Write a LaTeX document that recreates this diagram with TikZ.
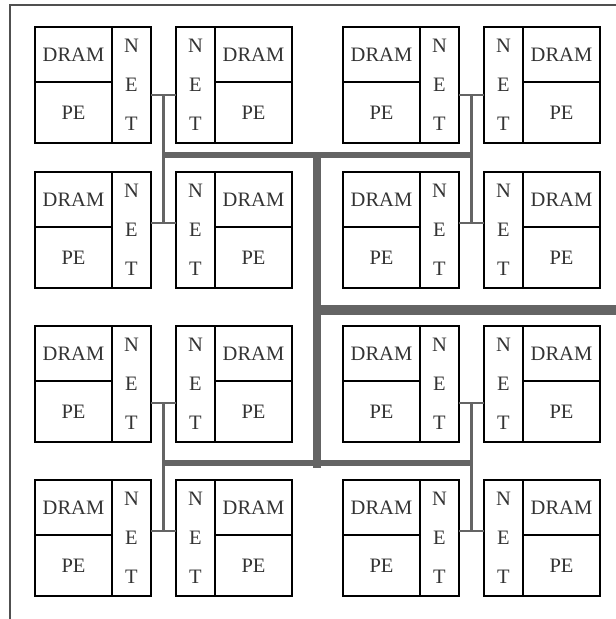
\documentclass[tikz,border=0pt]{standalone}
\usepackage{fontspec}
\setmainfont{Liberation Serif}
\definecolor{busgray}{HTML}{646464}
\definecolor{framegray}{HTML}{505050}
\tikzset{
  cell/.style={draw=black, line width=1.3pt, rectangle, inner sep=0pt, outer sep=0pt,
    text=black!80, font=\fontsize{20.5}{22}\selectfont},
  memcell/.style={cell, minimum width=77pt},
  netcell/.style={cell, minimum width=39pt, minimum height=116pt, align=center,
    font=\fontsize{20.5}{39}\selectfont},
  link/.style={draw=busgray, line width=1.4pt},
  feeder/.style={draw=busgray, line width=3pt},
  bus/.style={draw=busgray, line width=5.5pt},
  trunk/.style={draw=busgray, line width=8pt},
  mainbus/.style={draw=busgray, line width=10pt},
  frameline/.style={draw=framegray, line width=2pt}
}
% left module: memory on the left, NET on the right
\newcommand\leftmod[3]{%
  \node[memcell, minimum height=55pt, anchor=north west] (#1d) at (#2,#3) {DRAM};
  \node[memcell, minimum height=61pt, anchor=north west] (#1p) at (#1d.south west) {PE};
  \node[netcell, anchor=north west] (#1n) at (#1d.north east) {N\\E\\T};
}
% right module: NET on the left, memory on the right
\newcommand\rightmod[3]{%
  \node[netcell, anchor=north west] (#1n) at (#2,#3) {N\\E\\T};
  \node[memcell, minimum height=55pt, anchor=north west] (#1d) at (#1n.north east) {DRAM};
  \node[memcell, minimum height=61pt, anchor=north west] (#1p) at (#1d.south west) {PE};
}
\begin{document}
\begin{tikzpicture}[x=1pt, y=-1pt]
\useasboundingbox (0,0) rectangle (616,619);
% frame
\coordinate (ftl) at (10,5);
\coordinate (ftr) at (616,5);
\coordinate (fbl) at (10,619);
\draw[frameline] (ftr) -- (ftl) -- (fbl);

% modules
\leftmod{a1}{35}{27}   \rightmod{a2}{176}{27}  \leftmod{a3}{343}{27}  \rightmod{a4}{484}{27}
\leftmod{b1}{35}{172}  \rightmod{b2}{176}{172} \leftmod{b3}{343}{172} \rightmod{b4}{484}{172}
\leftmod{c1}{35}{326}  \rightmod{c2}{176}{326} \leftmod{c3}{343}{326} \rightmod{c4}{484}{326}
\leftmod{d1}{35}{480}  \rightmod{d2}{176}{480} \leftmod{d3}{343}{480} \rightmod{d4}{484}{480}

% junction coordinates
\coordinate (ja1) at (163,95);  \coordinate (ja3) at (471,95);
\coordinate (jb1) at (163,223); \coordinate (jb3) at (471,223);
\coordinate (jc1) at (163,403); \coordinate (jc3) at (471,403);
\coordinate (jd1) at (163,531); \coordinate (jd3) at (471,531);
\coordinate (tl) at (163,155);  \coordinate (tm) at (317,155); \coordinate (tr) at (471,155);
\coordinate (bl) at (163,463);  \coordinate (bm) at (317,463); \coordinate (br) at (471,463);
\coordinate (mm) at (317,310);  \coordinate (me) at (616,310);
\coordinate (tmt) at (317,152); \coordinate (bmb) at (317,468);

% links between NET blocks
\foreach \r in {a,b,c,d} {
  \draw[link] (\r1n.east |- j\r1) -- (\r2n.west |- j\r1);
  \draw[link] (\r3n.east |- j\r3) -- (\r4n.west |- j\r3);
}
% feeders
\draw[feeder] (ja1) -- (jb1);
\draw[feeder] (ja3) -- (jb3);
\draw[feeder] (jc1) -- (jd1);
\draw[feeder] (jc3) -- (jd3);
% buses
\draw[bus] (tl) -- (tr);
\draw[bus] (bl) -- (br);
\draw[trunk] (tmt) -- (bmb);
\draw[mainbus] (mm) -- (me);
\end{tikzpicture}
\end{document}
